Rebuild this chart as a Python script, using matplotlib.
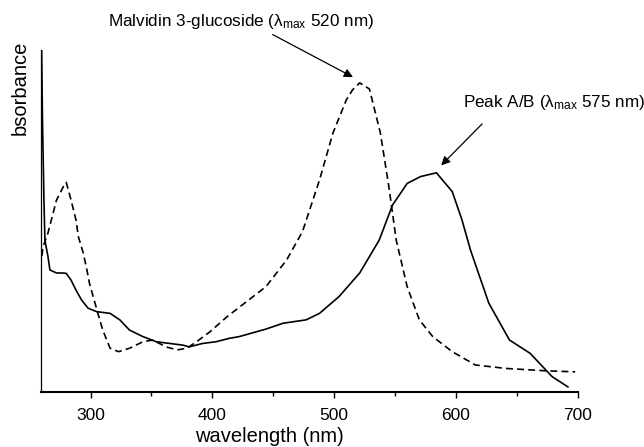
import matplotlib
matplotlib.use("Agg")
import matplotlib.pyplot as plt
import matplotlib.ticker as ticker

plt.rcParams["font.family"] = ["Liberation Sans", "DejaVu Sans"]
plt.rcParams["mathtext.fontset"] = "custom"
plt.rcParams["mathtext.rm"] = "Liberation Sans"
plt.rcParams["mathtext.it"] = "Liberation Sans:italic"
plt.rcParams["lines.scale_dashes"] = False

# Malvidin 3-glucoside spectrum (dashed), wavelength in nm / relative absorbance
malv_nm = [260, 261, 265, 272, 279, 280, 284, 288, 290, 294, 297, 299, 306, 310,
           316, 323, 332, 343, 351, 362, 371, 379, 387, 398, 412, 444, 461, 474,
           488, 499, 510, 515, 521, 529, 538, 545, 551, 560, 570, 581, 597, 616,
           641, 674, 698]
malv_abs = [0.398, 0.425, 0.465, 0.561, 0.610, 0.613, 0.561, 0.503, 0.454, 0.406,
            0.357, 0.319, 0.230, 0.181, 0.128, 0.118, 0.128, 0.147, 0.152, 0.132,
            0.123, 0.128, 0.147, 0.176, 0.220, 0.308, 0.386, 0.469, 0.620, 0.757,
            0.854, 0.883, 0.904, 0.886, 0.757, 0.599, 0.444, 0.308, 0.211, 0.162,
            0.118, 0.079, 0.069, 0.062, 0.059]

# Peak A/B spectrum (solid)
peak_nm = [259.8, 260.5, 261.7, 262.5, 265, 266.6, 272, 277, 280, 284, 288, 292.6,
           298, 305, 316, 324, 332, 343, 354, 365, 376, 381, 392, 403, 414, 422,
           444, 458, 477, 488, 504, 521, 537, 548, 560, 571, 584, 597, 605, 612,
           627, 644, 661, 679, 692]
peak_abs = [1.0, 0.795, 0.561, 0.444, 0.396, 0.357, 0.348, 0.348, 0.347, 0.327,
            0.298, 0.269, 0.245, 0.235, 0.230, 0.211, 0.181, 0.162, 0.147, 0.142,
            0.137, 0.132, 0.142, 0.147, 0.157, 0.162, 0.184, 0.201, 0.211, 0.230,
            0.279, 0.348, 0.444, 0.547, 0.610, 0.630, 0.641, 0.586, 0.503, 0.415,
            0.260, 0.152, 0.113, 0.045, 0.015]

xticks = [300, 400, 500, 600, 700]

fig = plt.figure(figsize=(6.44, 4.47), dpi=100)
ax = fig.add_axes([0.0637, 0.1230, 0.8333, 0.7651])

ax.plot(peak_nm, peak_abs, color="black", linewidth=1.2)
ax.plot(malv_nm, malv_abs, color="black", linewidth=1.2, dashes=(5, 3))

ax.set_xlim(259.3, 700)
ax.set_ylim(0, 1.0)
ax.set_xticks(xticks)
ax.xaxis.set_minor_locator(ticker.MultipleLocator(50))
ax.set_yticks([])
ax.tick_params(axis="x", which="major", length=4, width=1, labelsize=12.5, pad=7.5)
ax.tick_params(axis="x", which="minor", length=3, width=1)
ax.spines["top"].set_visible(False)
ax.spines["right"].set_visible(False)
ax.spines["left"].set_linewidth(0.9)
ax.spines["bottom"].set_linewidth(1.5)

fig.text(0.4177, 0.024, "wavelength (nm)", fontsize=14.5, ha="center", va="center")
fig.text(0.031, 0.803, "bsorbance", fontsize=14.5, rotation=90, ha="center", va="center")

# annotations
fig.text(0.1677, 0.9515, r"Malvidin 3-glucoside (λ$_{\rm max}$ 520 nm)",
         fontsize=12.3, ha="left", va="center")
ax.annotate("", xy=(517.5, 0.917), xytext=(447.5, 1.049), annotation_clip=False,
            arrowprops=dict(arrowstyle="-|>", color="black", lw=0.9, mutation_scale=13))

fig.text(0.7194, 0.7696, r"Peak A/B (λ$_{\rm max}$ 575 nm)",
         fontsize=12.3, ha="left", va="center")
ax.annotate("", xy=(586.3, 0.657), xytext=(623.2, 0.790), annotation_clip=False,
            arrowprops=dict(arrowstyle="-|>", color="black", lw=0.9, mutation_scale=13))

fig.savefig("out.png", dpi=100)
